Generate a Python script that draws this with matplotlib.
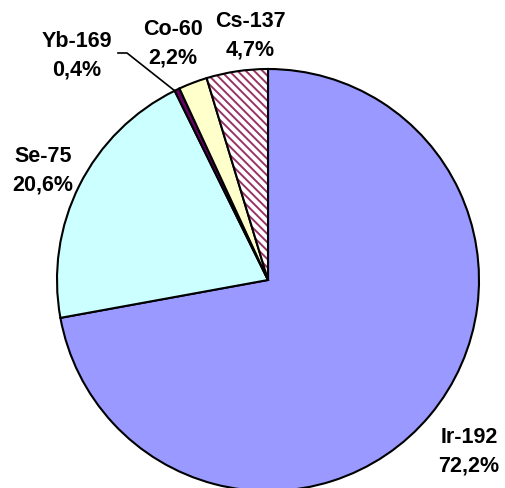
import matplotlib
matplotlib.use("Agg")
import matplotlib.pyplot as plt
from matplotlib.patches import Wedge

# dados (sentido horario a partir do topo)
isotopes = ["Ir-192", "Se-75", "Yb-169", "Co-60", "Cs-137"]
shares = [72.2, 20.6, 0.4, 2.2, 4.7]
colors = ["#9999FF", "#CCFFFF", "#660066", "#FFFFCC", "#FFFFFF"]

W, H = 506, 489
plt.rcParams["font.family"] = ["Liberation Sans", "DejaVu Sans"]
plt.rcParams["hatch.linewidth"] = 1.4

fig = plt.figure(figsize=(W / 100, H / 100), dpi=100)
ax = fig.add_axes([0, 0, 1, 1])

cx, cy, r = 268, H - 281, 211
wedges, _ = ax.pie(shares, colors=colors, startangle=90, counterclock=False,
                   center=(cx, cy), radius=r, frame=True,
                   wedgeprops=dict(edgecolor="black", linewidth=1.5))
ax.set_xlim(0, W)
ax.set_ylim(0, H)
ax.set_aspect("equal")
ax.axis("off")

# fatia hachurada do Cs-137
cs = wedges[4]
cs.set_hatch("\\\\\\\\")
cs.set_edgecolor("#993366")
cs.set_linewidth(0)
ax.add_patch(Wedge((cx, cy), r, cs.theta1, cs.theta2, fill=False,
                   edgecolor="black", linewidth=1.5))

# rotulos (pixel do topo)
label_pos = [(469, 452), (43, 171), (77, 56), (173, 44), (250, 36)]
for name, val, (px, py) in zip(isotopes, shares, label_pos):
    txt = "{}\n{}%".format(name, ("%.1f" % val).replace(".", ","))
    ax.text(px, H - py, txt, ha="center", va="center", fontsize=15.5,
            fontweight="bold", linespacing=1.5)

# linha guia do Yb-169
ax.plot([118, 127, 175], [H - 54, H - 54, H - 92], color="black", lw=1.2)

fig.savefig("out.png", dpi=100)
